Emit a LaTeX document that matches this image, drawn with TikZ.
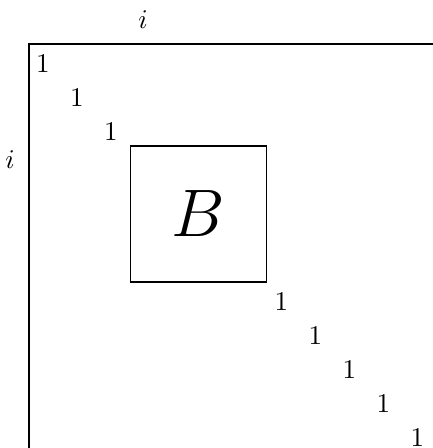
\documentclass[tikz,border=0pt]{standalone}
\begin{document}
\begin{tikzpicture}[x=0.37pt,y=-0.37pt,
  one/.style={inner sep=0pt},
  lbl/.style={inner sep=0pt},
  frame/.style={line width=0.4pt}]
\useasboundingbox (0,0) rectangle (433,448);
\coordinate (tl) at (29,44);
\coordinate (tr) at (433,44);
\coordinate (bl) at (29,448);
\draw[frame] (tr) -- (tl) -- (bl);
\node[lbl] (itop) at (143,20) {$i$};
\node[lbl] (ileft) at (10,160) {$i$};
\node[one] (a1) at (43,63) {1};
\node[one] (a2) at (77,97) {1};
\node[one] (a3) at (111,131) {1};
\node[draw,frame,minimum width=136*0.37pt,minimum height=136*0.37pt,inner sep=0pt] (B) at (198.5,214) {\Huge $B$};
\node[one] (b1) at (281.5,301) {1};
\node[one] (b2) at (315.5,335) {1};
\node[one] (b3) at (349.5,369) {1};
\node[one] (b4) at (383.5,403) {1};
\node[one] (b5) at (417.5,437) {1};
\end{tikzpicture}
\end{document}
